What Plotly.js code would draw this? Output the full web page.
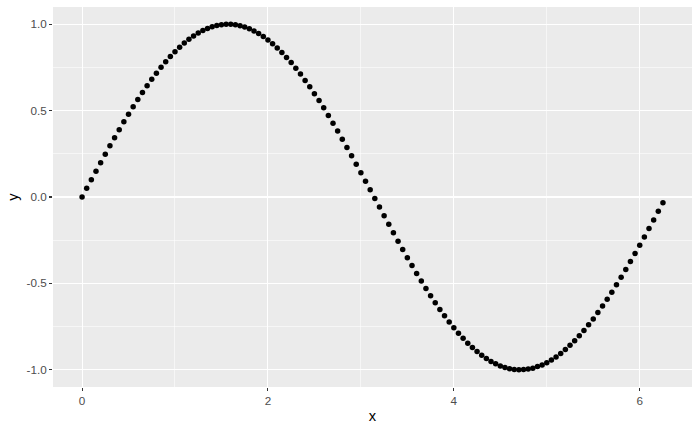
<!DOCTYPE html>
<html>
<head>
<meta charset="utf-8">
<script src="https://cdn.plot.ly/plotly-3.0.1.min.js"></script>
<style>html,body{margin:0;padding:0;background:#fff}#chart{width:700px;height:432px}</style>
</head>
<body>
<div id="chart"></div>
<script>
var xValues = [0.00,0.05,0.10,0.15,0.20,0.25,0.30,0.35,0.40,0.45,0.50,0.55,0.60,0.65,0.70,0.75,0.80,0.85,0.90,0.95,
1.00,1.05,1.10,1.15,1.20,1.25,1.30,1.35,1.40,1.45,1.50,1.55,1.60,1.65,1.70,1.75,1.80,1.85,1.90,1.95,
2.00,2.05,2.10,2.15,2.20,2.25,2.30,2.35,2.40,2.45,2.50,2.55,2.60,2.65,2.70,2.75,2.80,2.85,2.90,2.95,
3.00,3.05,3.10,3.15,3.20,3.25,3.30,3.35,3.40,3.45,3.50,3.55,3.60,3.65,3.70,3.75,3.80,3.85,3.90,3.95,
4.00,4.05,4.10,4.15,4.20,4.25,4.30,4.35,4.40,4.45,4.50,4.55,4.60,4.65,4.70,4.75,4.80,4.85,4.90,4.95,
5.00,5.05,5.10,5.15,5.20,5.25,5.30,5.35,5.40,5.45,5.50,5.55,5.60,5.65,5.70,5.75,5.80,5.85,5.90,5.95,
6.00,6.05,6.10,6.15,6.20,6.25];
var yValues = [0.000,0.050,0.100,0.149,0.199,0.247,0.296,0.343,0.389,0.435,0.479,0.523,0.565,0.605,0.644,0.682,0.717,0.751,0.783,0.813,
0.841,0.867,0.891,0.913,0.932,0.949,0.964,0.976,0.985,0.993,0.997,1.000,1.000,0.997,0.992,0.984,0.974,0.961,0.946,0.929,
0.909,0.887,0.863,0.837,0.808,0.778,0.746,0.712,0.675,0.638,0.598,0.558,0.516,0.472,0.427,0.382,0.335,0.287,0.239,0.190,
0.141,0.091,0.042,-0.008,-0.058,-0.108,-0.158,-0.207,-0.256,-0.304,-0.351,-0.397,-0.443,-0.487,-0.530,-0.572,-0.612,-0.651,-0.688,-0.723,
-0.757,-0.789,-0.818,-0.846,-0.872,-0.895,-0.916,-0.935,-0.952,-0.966,-0.978,-0.987,-0.994,-0.998,-1.000,-0.999,-0.996,-0.991,-0.982,-0.972,
-0.959,-0.944,-0.926,-0.906,-0.883,-0.859,-0.832,-0.804,-0.773,-0.740,-0.706,-0.669,-0.631,-0.592,-0.551,-0.508,-0.465,-0.420,-0.374,-0.327,
-0.279,-0.231,-0.182,-0.133,-0.083,-0.033];
var xTicks = [0, 2, 4, 6];
var xTickLabels = ["0", "2", "4", "6"];
var yTicks = [-1, -0.5, 0, 0.5, 1];
var yTickLabels = ["-1.0", "-0.5", "0.0", "0.5", "1.0"];

var trace = {
  x: xValues, y: yValues, type: 'scatter', mode: 'markers',
  marker: {color: '#000000', size: 5.5},
  hoverinfo: 'none'
};
var axisCommon = {
  showgrid: true, gridcolor: '#FFFFFF', gridwidth: 1.1,
  zeroline: false, showline: false,
  ticks: 'outside', ticklen: 3, tickwidth: 1.1, tickcolor: '#333333',
  tickfont: {family: 'Liberation Sans, Arial, sans-serif', size: 11.7, color: '#4D4D4D'},
  tickmode: 'array'
};
var layout = {
  width: 700, height: 432,
  margin: {l: 53, r: 8, t: 7, b: 45},
  paper_bgcolor: '#FFFFFF', plot_bgcolor: '#EBEBEB',
  showlegend: false,
  xaxis: Object.assign({}, axisCommon, {
    range: [-0.3125, 6.5625], tickvals: xTicks, ticktext: xTickLabels,
    minor: {tickvals: [1, 3, 5], showgrid: true, gridcolor: '#FFFFFF', gridwidth: 0.55, ticks: ''},
    title: {text: 'x', font: {family: 'Liberation Sans, Arial, sans-serif', size: 14.7, color: '#000000'}, standoff: 4}
  }),
  yaxis: Object.assign({}, axisCommon, {
    range: [-1.1, 1.1], tickvals: yTicks, ticktext: yTickLabels,
    minor: {tickvals: [-0.75, -0.25, 0.25, 0.75], showgrid: true, gridcolor: '#FFFFFF', gridwidth: 0.55, ticks: ''},
    title: {text: 'y', font: {family: 'Liberation Sans, Arial, sans-serif', size: 14.7, color: '#000000'}, standoff: 4}
  })
};
Plotly.newPlot('chart', [trace], layout, {staticPlot: true, displayModeBar: false});
</script>
</body>
</html>
